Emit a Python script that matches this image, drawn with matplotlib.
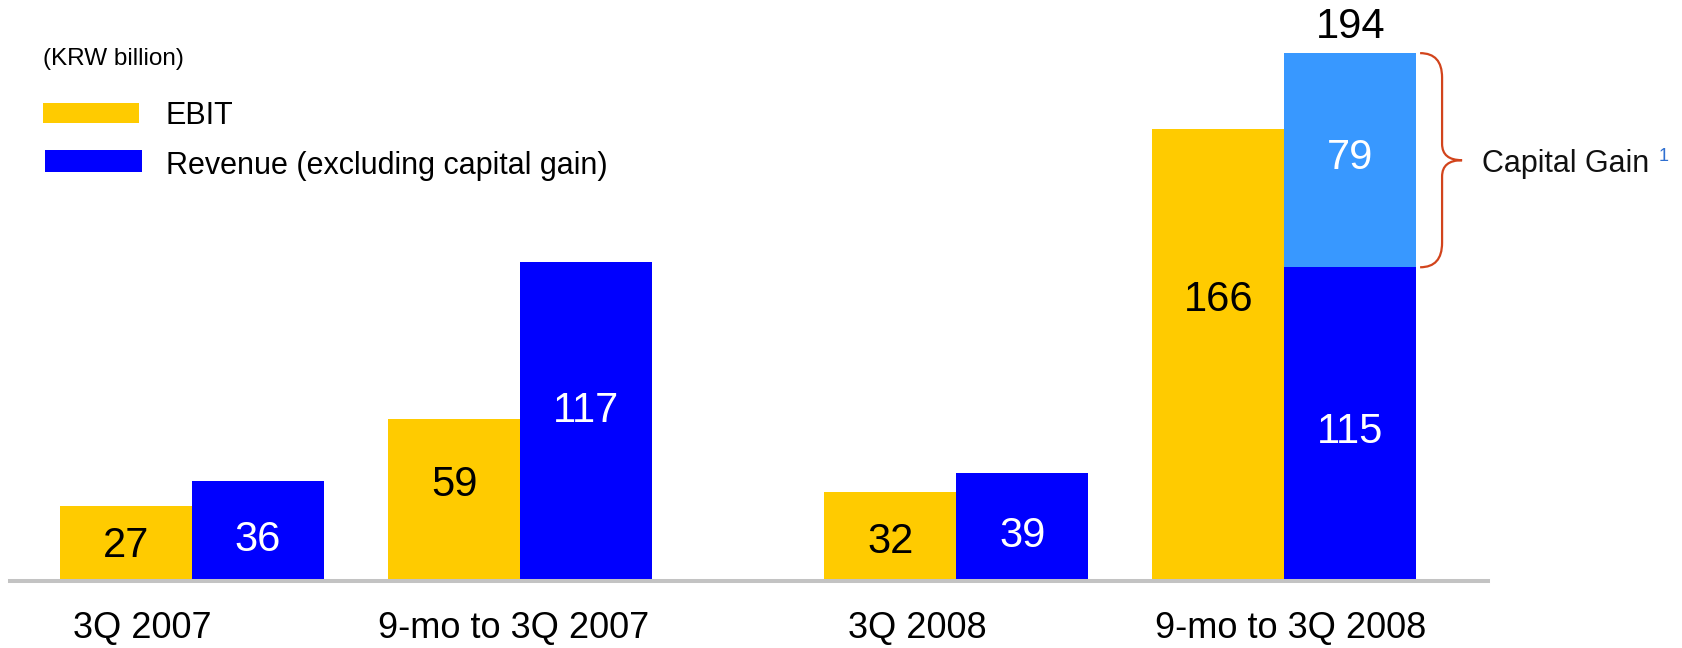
import matplotlib.pyplot as plt
from matplotlib.patches import Rectangle, PathPatch
from matplotlib.path import Path

plt.rcParams['font.family'] = ['Liberation Sans', 'DejaVu Sans']

# data (KRW billion)
categories = ['3Q 2007', '9-mo to 3Q 2007', '3Q 2008', '9-mo to 3Q 2008']
ebit = [27, 59, 32, 166]
revenue = [36, 117, 39, 115]
capital_gain = [0, 0, 0, 79]

# where the value label sits inside each bar (fraction of bar height)
ebit_label_pos = [0.45, 0.59, 0.43, 0.62]
rev_label_pos = [0.40, 0.53, 0.41, 0.47]
# category labels are not quite centred under their groups
cat_shift = [-0.152, -0.021, -0.119, 0.018]

yellow = '#FFCB00'
blue = '#0000FF'
light_blue = '#3898FF'
brace_col = '#D2441C'

x = [0, 1, 2.33, 3.33]
w = 0.402

fig = plt.figure(figsize=(16.82, 6.48), dpi=100)
ax = fig.add_axes([10 / 1682, 69 / 648, 1478 / 1682, 579 / 648])

ax.bar([xi - w / 2 for xi in x], ebit, width=w, color=yellow, linewidth=0)
ax.bar([xi + w / 2 for xi in x], revenue, width=w, color=blue, linewidth=0)
ax.bar([xi + w / 2 for xi in x], capital_gain, bottom=revenue, width=w,
       color=light_blue, linewidth=0)

for i in range(len(x)):
    ax.text(x[i] - w / 2, ebit[i] * ebit_label_pos[i], str(ebit[i]),
            ha='center', va='center', fontsize=30, color='black')
    ax.text(x[i] + w / 2, revenue[i] * rev_label_pos[i], str(revenue[i]),
            ha='center', va='center', fontsize=30, color='white')
    if capital_gain[i] > 0:
        top = revenue[i] + capital_gain[i]
        ax.text(x[i] + w / 2, revenue[i] + capital_gain[i] * 0.51,
                str(capital_gain[i]), ha='center', va='center',
                fontsize=30, color='white')
        ax.text(x[i] + w / 2, top + 9.7, str(top), ha='center', va='center',
                fontsize=30, color='black')

        # curly brace for the capital gain
        x0 = x[i] + w + 0.012
        x1 = x0 + 0.067
        x2 = x1 + 0.061
        yb, yt = revenue[i], top
        ym = (yb + yt) / 2
        r = 9.0
        rm = 6.0
        verts = [(x0, yt), (x1, yt), (x1, yt - r),
                 (x1, ym + rm), (x1, ym), (x2, ym),
                 (x1, ym), (x1, ym - rm),
                 (x1, yb + r), (x1, yb), (x0, yb)]
        codes = [Path.MOVETO, Path.CURVE3, Path.CURVE3,
                 Path.LINETO, Path.CURVE3, Path.CURVE3,
                 Path.CURVE3, Path.CURVE3,
                 Path.LINETO, Path.CURVE3, Path.CURVE3]
        ax.add_patch(PathPatch(Path(verts, codes), fill=False,
                               edgecolor=brace_col, lw=1.6, clip_on=False))
        ax.text(x2 + 0.06, ym - 1.5, 'Capital Gain', ha='left', va='center',
                fontsize=22, color='#111111')
        ax.text(x2 + 0.60, ym + 1.5, '1', ha='left', va='center',
                fontsize=13, color='#2F6FD0')

ax.axhline(-0.75, color='#C3C3C3', lw=2.9, clip_on=False)

ax.set_xlim(-0.555, 3.951)
ax.set_ylim(0, 213.6)
ax.axis('off')

for xi, s, c in zip(x, cat_shift, categories):
    ax.text(xi + s, -18.4, c, ha='center', va='center', fontsize=26,
            color='black', clip_on=False)

# legend
fig.text(43 / 1682, 1 - 59 / 648, '(KRW billion)', ha='left', va='center',
         fontsize=17.5, color='black')
fig.add_artist(Rectangle((43 / 1682, 1 - 123 / 648), 96 / 1682, 20 / 648,
                         transform=fig.transFigure, color=yellow, lw=0))
fig.add_artist(Rectangle((45 / 1682, 1 - 172 / 648), 97 / 1682, 22 / 648,
                         transform=fig.transFigure, color=blue, lw=0))
fig.text(166 / 1682, 1 - 116 / 648, 'EBIT', ha='left', va='center',
         fontsize=22, color='black')
fig.text(166 / 1682, 1 - 166 / 648, 'Revenue (excluding capital gain)',
         ha='left', va='center', fontsize=22, color='black')

fig.savefig('out.png', dpi=100)
